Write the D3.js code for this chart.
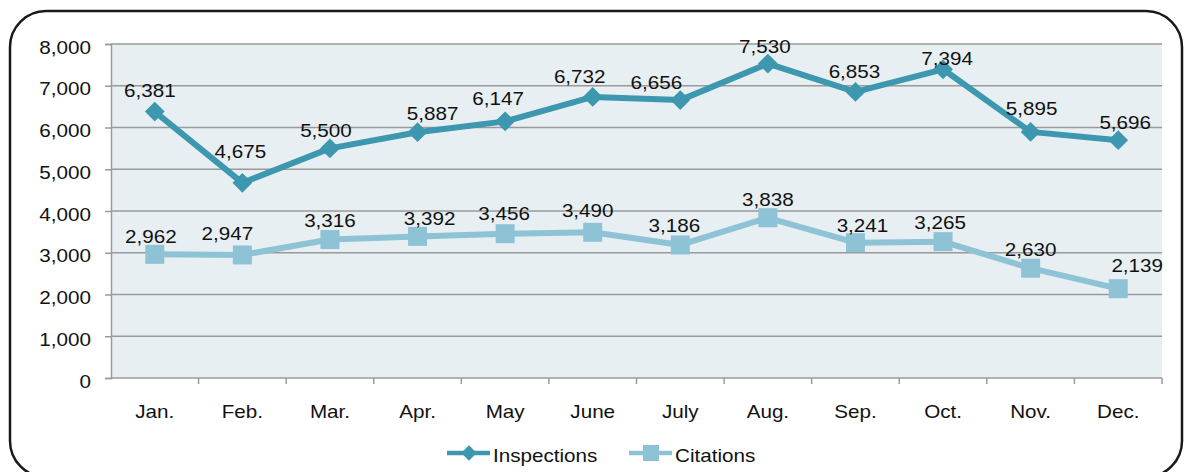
<!DOCTYPE html>
<html>
<head>
<meta charset="utf-8">
<script src="https://cdn.jsdelivr.net/npm/d3@7"></script>
<style>
  body { margin: 0; background: #fff; }
  text { font-family: "Liberation Sans", Arial, sans-serif; fill: #111; }
</style>
</head>
<body>
<div id="chart"></div>
<script>
// months and the two series
var months = ["Jan.", "Feb.", "Mar.", "Apr.", "May", "June", "July", "Aug.", "Sep.", "Oct.", "Nov.", "Dec."];
var inspections = [6381, 4675, 5500, 5887, 6147, 6732, 6656, 7530, 6853, 7394, 5895, 5696];
var citations = [2962, 2947, 3316, 3392, 3456, 3490, 3186, 3838, 3241, 3265, 2630, 2139];
var yTicks = [0, 1000, 2000, 3000, 4000, 5000, 6000, 7000, 8000];

// value labels were nudged by hand in the original, [dx, dy] from the point
var inspNudge = [[-5,-15],[-2,-25],[-4,-11],[15,-12],[-7,-16],[-13,-14],[-24,-11],[-3,-11],[-1,-14],[4,-4],[1,-17],[7,-11]];
var citNudge = [[-4,-11],[-15,-15],[0,-13],[12,-11],[-1,-14],[-5,-15],[-6,-13],[0,-12],[7,-11],[-3,-13],[0,-12],[19,-17]];

var COLOR_INSP = "#3C97AF",
    COLOR_CIT = "#8EC3D6",
    COLOR_GRID = "#9a9a9a";

var FONT = 17.5, STRETCH = 1.18; // the original text is a bit wide

var width = 1185, height = 472;
var margin = {left: 111, right: 23, top: 44, bottom: 94};

var svg = d3.select("#chart").append("svg")
    .attr("width", width)
    .attr("height", height);

// rounded frame, runs just off the bottom edge
svg.append("rect")
    .attr("x", 10).attr("y", 11)
    .attr("width", 1172).attr("height", 466)
    .attr("rx", 36).attr("ry", 36)
    .attr("fill", "none")
    .attr("stroke", "#1a1a1a")
    .attr("stroke-width", 2.5);

var x = d3.scaleBand()
    .domain(months)
    .range([margin.left, width - margin.right]);

var y = d3.scaleLinear()
    .domain([0, 8000])
    .range([height - margin.bottom, margin.top]);

var cx = function(d, i) { return x(months[i]) + x.bandwidth() / 2; };

function wideText(sel, px, py) {
  sel.attr("transform", function(d, i) { return "translate(" + px(d, i) + "," + py(d, i) + ") scale(" + STRETCH + ",1)"; })
     .style("font-size", FONT + "px");
}

svg.append("rect")
    .attr("x", margin.left).attr("y", margin.top)
    .attr("width", width - margin.right - margin.left)
    .attr("height", y(0) - margin.top)
    .attr("fill", "#E7EFF3");

// gridlines
svg.append("g")
  .selectAll("line")
    .data(yTicks.slice(1))
  .enter().append("line")
    .attr("x1", margin.left).attr("x2", width - margin.right)
    .attr("y1", function(d) { return y(d); })
    .attr("y2", function(d) { return y(d); })
    .attr("stroke", COLOR_GRID)
    .attr("stroke-width", 1.5);

// y axis
var yAxis = d3.axisLeft(y)
    .tickValues(yTicks)
    .tickSize(6)
    .tickPadding(14)
    .tickFormat(d3.format(","));

var gy = svg.append("g")
    .attr("transform", "translate(" + margin.left + ",0)")
    .call(yAxis);
gy.select(".domain").attr("stroke", COLOR_GRID).attr("stroke-width", 1.5);
gy.selectAll(".tick line").attr("stroke", COLOR_GRID).attr("stroke-width", 1.5);
gy.selectAll(".tick text")
    .attr("x", null).attr("dy", null)
    .attr("fill", "#111")
    .call(wideText, function() { return -20; }, function() { return 9; });

// x axis, ticks at category boundaries
var gx = svg.append("g")
    .attr("transform", "translate(0," + y(0) + ")");
gx.append("line")
    .attr("x1", margin.left).attr("x2", width - margin.right)
    .attr("stroke", COLOR_GRID).attr("stroke-width", 1.5);
gx.selectAll(".sep")
    .data(months)
  .enter().append("line")
    .attr("class", "sep")
    .attr("x1", function(d) { return x(d) + x.bandwidth(); })
    .attr("x2", function(d) { return x(d) + x.bandwidth(); })
    .attr("y1", 0).attr("y2", 6)
    .attr("stroke", COLOR_GRID).attr("stroke-width", 1.5);
gx.selectAll(".lbl")
    .data(months)
  .enter().append("text")
    .attr("class", "lbl")
    .attr("text-anchor", "middle")
    .text(function(d) { return d; })
    .call(wideText, function(d) { return x(d) + x.bandwidth() / 2; }, function() { return 40; });

var line = d3.line()
    .x(cx)
    .y(function(d) { return y(d); });

function drawSeries(data, nudge, color, shape) {
  var g = svg.append("g");
  g.append("path")
      .datum(data)
      .attr("d", line)
      .attr("fill", "none")
      .attr("stroke", color)
      .attr("stroke-width", 6)
      .attr("stroke-linejoin", "round");
  g.selectAll(".mk")
      .data(data)
    .enter().append("path")
      .attr("class", "mk")
      .attr("transform", function(d, i) { return "translate(" + cx(d, i) + "," + y(d) + ")" + (shape === "diamond" ? " rotate(45)" : ""); })
      .attr("d", shape === "diamond" ? "M-7,-7H7V7H-7Z" : "M-9.5,-9.5H9.5V9.5H-9.5Z")
      .attr("fill", color);
  g.selectAll(".val")
      .data(data)
    .enter().append("text")
      .attr("class", "val")
      .attr("text-anchor", "middle")
      .text(d3.format(","))
      .call(wideText,
            function(d, i) { return cx(d, i) + nudge[i][0]; },
            function(d, i) { return y(d) + nudge[i][1]; });
}

drawSeries(citations, citNudge, COLOR_CIT, "square");
drawSeries(inspections, inspNudge, COLOR_INSP, "diamond");

// legend
var legend = [
  {name: "Inspections", color: COLOR_INSP, shape: "diamond", x: 447},
  {name: "Citations", color: COLOR_CIT, shape: "square", x: 629}
];
var lg = svg.append("g").selectAll("g")
    .data(legend)
  .enter().append("g")
    .attr("transform", function(d) { return "translate(" + d.x + ",453)"; });
lg.append("line")
    .attr("x1", 0).attr("x2", 43)
    .attr("stroke", function(d) { return d.color; })
    .attr("stroke-width", 4.5);
lg.append("path")
    .attr("transform", function(d) { return "translate(22,0)" + (d.shape === "diamond" ? " rotate(45)" : ""); })
    .attr("d", function(d) { return d.shape === "diamond" ? "M-5.5,-5.5H5.5V5.5H-5.5Z" : "M-8,-8H8V8H-8Z"; })
    .attr("fill", function(d) { return d.color; });
lg.append("text")
    .text(function(d) { return d.name; })
    .call(wideText, function() { return 46; }, function() { return 9; });
</script>
</body>
</html>
